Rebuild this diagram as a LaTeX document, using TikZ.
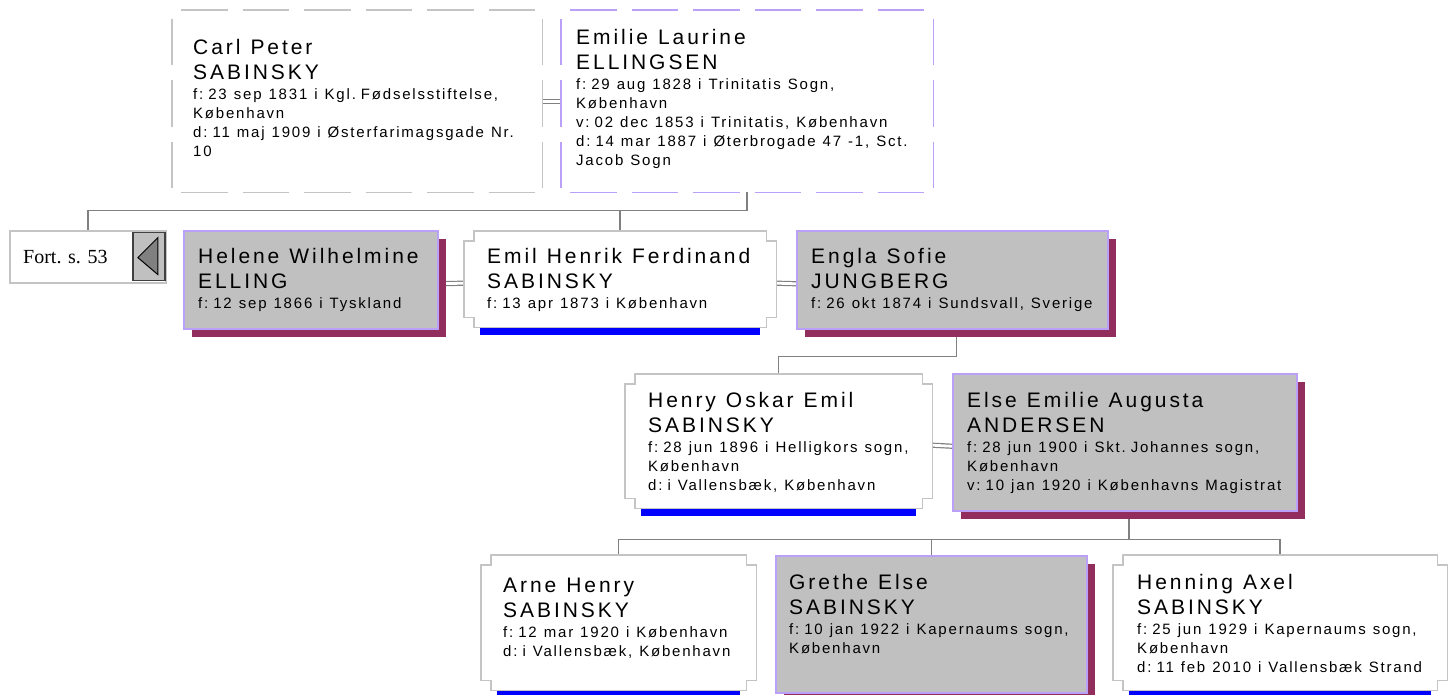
\documentclass[tikz,border=0pt]{standalone}
\usepackage{fontspec}
\setmainfont{Liberation Sans}
\newfontfamily\namefam[LetterSpace=14]{Liberation Sans}
\newfontfamily\infofam[LetterSpace=12]{Liberation Sans}
\newfontfamily\fortfam{Liberation Serif}
\usepackage{tikz}
\usetikzlibrary{positioning, calc, shadows, backgrounds}

\definecolor{lilac}{RGB}{187,160,250}
\definecolor{boxgrey}{RGB}{192,192,192}
\definecolor{shadowred}{RGB}{145,46,94}
\definecolor{framegrey}{RGB}{196,196,196}
\definecolor{kingrey}{RGB}{128,128,128}
\definecolor{barblue}{RGB}{0,0,255}

% letter spaced fonts lose their word space, so it is set by hand
\newcommand{\namefont}{\fontsize{21}{25}\namefam\spaceskip=10pt\relax}
\newcommand{\infofont}{\fontsize{15}{19}\infofam\spaceskip=7pt\relax}
\newcommand{\who}[2]{\parindent=0pt{\namefont #1\par}\vskip1pt{\infofont #2\par}}

% frame with square notches at the corners, blue bar below
\newcommand{\notchframe}[1]{%
  \fill[barblue] ($(#1.south west)+(16,0)$) rectangle ($(#1.south east)+(-16,8)$);
  \filldraw[notchline] ($(#1.north west)+(10,0)$) -- ($(#1.north east)+(-10,0)$) -- ++(0,10) -- ++(10,0)
    -- ($(#1.south east)+(0,-10)$) -- ++(-10,0) -- ++(0,10) -- ($(#1.south west)+(10,0)$) -- ++(0,-10)
    -- ++(-10,0) -- ($(#1.north west)+(0,10)$) -- ++(10,0) -- cycle;}
% dashed frame, each side on its own
\newcommand{\dashframe}[2][framegrey]{%
  \draw[dashline, #1] (#2.north west) -- (#2.north east);
  \draw[dashline, #1] (#2.north east) -- (#2.south east);
  \draw[dashline, #1] (#2.south west) -- (#2.south east);
  \draw[dashline, #1] (#2.north west) -- (#2.south west);}

\tikzset{
  plainbox/.style={rectangle, anchor=north west, inner sep=0pt},
  greybox/.style={plainbox, draw=lilac, line width=1.5pt, fill=boxgrey,
    general shadow={fill=shadowred, shadow xshift=8pt, shadow yshift=-8pt}},
  notchline/.style={draw=framegrey, line width=1.5pt, fill=white},
  dashline/.style={line width=1.2pt, dash pattern=on 46.5pt off 15pt, dash phase=52.5pt},
  txt/.style={anchor=north west, inner sep=0pt, text width=430pt, align=left},
  kin/.style={draw=kingrey, line width=1.5pt},
  wed/.style={draw=kingrey, line width=1.2pt, double=white, double distance=2.8pt},
  fortbox/.style={plainbox, draw=framegrey, line width=1.5pt, fill=white},
  backbtn/.style={anchor=north east, inner sep=0pt, draw=black!75, line width=1.2pt,
    fill=boxgrey, minimum width=32pt, minimum height=48pt},
  tri/.style={fill=black!50, draw=black, line width=1pt}
}

\begin{document}
\begin{tikzpicture}[x=1pt, y=-1pt]
  \useasboundingbox (0,0) rectangle (1453,695);

  % parents
  \node[plainbox, minimum width=370pt, minimum height=182pt] (carl) at (172,10) {};
  \dashframe{carl}
  \node[txt] (carl-t) at ([shift={(21,29)}]carl.north west)
    {\who{Carl Peter\\SABINSKY}{f: 23 sep 1831 i Kgl. Fødselsstiftelse,\\København\\d: 11 maj 1909 i Østerfarimagsgade Nr.\\10}};
  \node[plainbox, minimum width=372pt, minimum height=182pt] (emilie) at (561,10) {};
  \dashframe[lilac]{emilie}
  \node[txt] (emilie-t) at ([shift={(15,19)}]emilie.north west)
    {\who{Emilie Laurine\\ELLINGSEN}{f: 29 aug 1828 i Trinitatis Sogn,\\København\\v: 02 dec 1853 i Trinitatis, København\\d: 14 mar 1887 i Øterbrogade 47 -1, Sct.\\Jacob Sogn}};

  % back reference
  \node[fortbox, minimum width=156pt, minimum height=52pt] (fort) at (9,230) {};
  \node[anchor=west, inner sep=0pt, font=\fontsize{20}{24}\fortfam] (fort-t) at ([xshift=14pt]fort.west) {Fort. s. 53};
  \node[backbtn] (back) at ([shift={(-1,2)}]fort.north east) {};
  \filldraw[tri] ($(back.center)+(-11,1)$) -- ($(back.center)+(9,-19)$) -- ($(back.center)+(9,18)$) -- cycle;

  % second row
  \node[greybox, minimum width=254pt, minimum height=98pt] (helene) at (183,230) {};
  \node[txt] (helene-t) at ([shift={(15,18)}]helene.north west)
    {\who{Helene Wilhelmine\\ELLING}{f: 12 sep 1866 i Tyskland}};
  \node[plainbox, minimum width=312pt, minimum height=96pt] (emil) at (464,231) {};
  \notchframe{emil}
  \node[txt] (emil-t) at ([shift={(23,17)}]emil.north west)
    {\who{Emil Henrik Ferdinand\\SABINSKY}{f: 13 apr 1873 i København}};
  \node[greybox, minimum width=311pt, minimum height=98pt] (engla) at (796,230) {};
  \node[txt] (engla-t) at ([shift={(15,18)}]engla.north west)
    {\who{Engla Sofie\\JUNGBERG}{f: 26 okt 1874 i Sundsvall, Sverige}};

  % third row
  \node[plainbox, minimum width=307pt, minimum height=134pt] (henry) at (625,374) {};
  \notchframe{henry}
  \node[txt] (henry-t) at ([shift={(23,18)}]henry.north west)
    {\who{Henry Oskar Emil\\SABINSKY}{f: 28 jun 1896 i Helligkors sogn,\\København\\d: i Vallensbæk, København}};
  \node[greybox, minimum width=344pt, minimum height=137pt] (else) at (952,373) {};
  \node[txt] (else-t) at ([shift={(15,19)}]else.north west)
    {\who{Else Emilie Augusta\\ANDERSEN}{f: 28 jun 1900 i Skt. Johannes sogn,\\København\\v: 10 jan 1920 i Københavns Magistrat}};

  % children
  \node[plainbox, minimum width=275pt, minimum height=135pt] (arne) at (481,555) {};
  \notchframe{arne}
  \node[txt] (arne-t) at ([shift={(22,23)}]arne.north west)
    {\who{Arne Henry\\SABINSKY}{f: 12 mar 1920 i København\\d: i Vallensbæk, København}};
  \node[greybox, minimum width=311pt, minimum height=137pt] (grethe) at (775,555) {};
  \node[txt] (grethe-t) at ([shift={(14,19)}]grethe.north west)
    {\who{Grethe Else\\SABINSKY}{f: 10 jan 1922 i Kapernaums sogn,\\København}};
  \node[plainbox, minimum width=334pt, minimum height=135pt] (henning) at (1113,555) {};
  \notchframe{henning}
  \node[txt] (henning-t) at ([shift={(24,19)}]henning.north west)
    {\who{Henning Axel\\SABINSKY}{f: 25 jun 1929 i Kapernaums sogn,\\København\\d: 11 feb 2010 i Vallensbæk Strand}};

  % connectors behind the boxes
  \begin{pgfonlayer}{background}
    \draw[wed] (carl.east) -- (emilie.west);
    \draw[wed] ([yshift=-4pt]helene.east) -- ([yshift=-4pt]emil.west);
    \draw[wed] ([yshift=-4pt]emil.east) -- ([yshift=-4pt]engla.west);
    \draw[wed] ([yshift=-4pt]henry.east) -- ([yshift=-4pt]else.west);
    \draw[kin] (emilie.south) -- ++(0,18) coordinate (E1) -| (fort.north);
    \draw[kin] (E1) -| (emil.north);
    \draw[kin] ([xshift=4pt]engla.south) -- ++(0,27) coordinate (E2) -| (henry.north);
    \draw[kin] ([xshift=4pt]else.south) -- ++(0,28) coordinate (E3) -| (arne.north);
    \draw[kin] (E3) -| (grethe.north);
    \draw[kin] (E3) -| (henning.north);
  \end{pgfonlayer}
\end{tikzpicture}
\end{document}
